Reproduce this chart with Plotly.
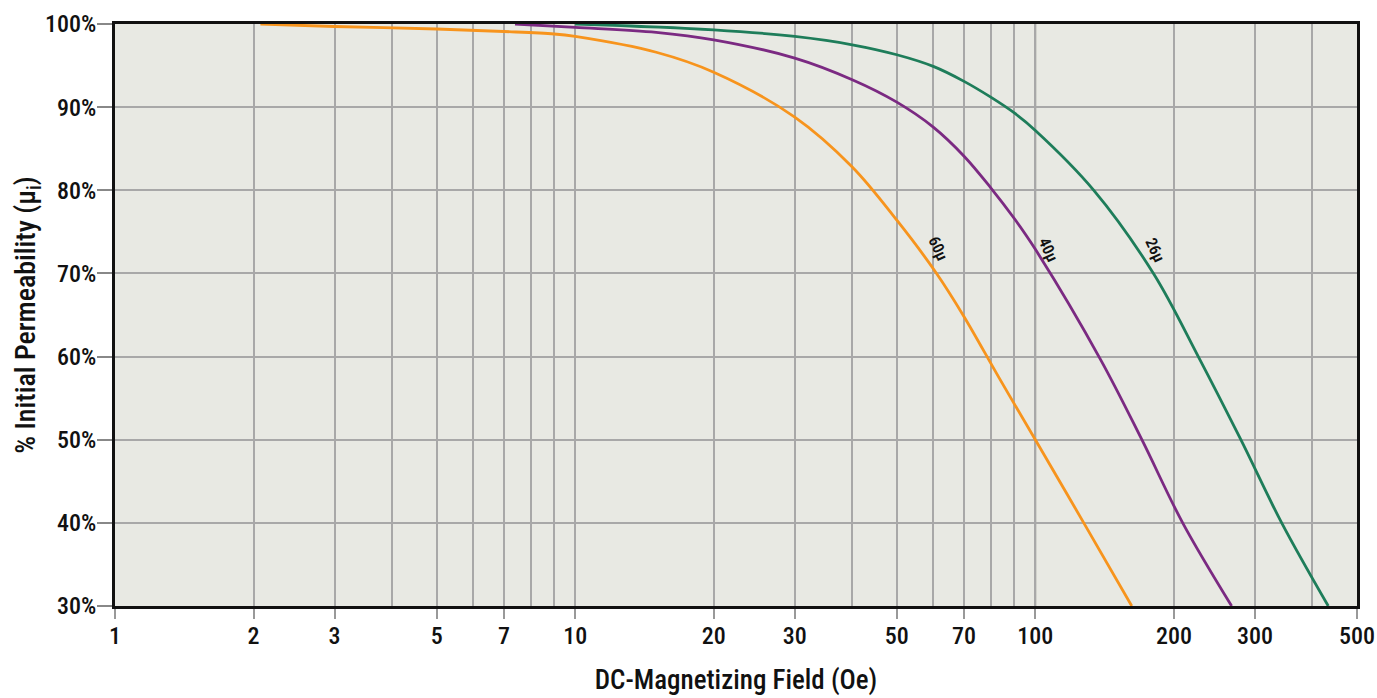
import math
import plotly.graph_objects as go

# ---- data ----
x_60u = [2.07, 3, 5, 7, 9, 10, 15, 20, 30, 40, 50, 61, 70, 83.3, 100, 127.4, 162]
y_60u = [100, 99.7, 99.4, 99.1, 98.8, 98.5, 96.6, 94.2, 88.8, 82.8, 76.4, 70, 64.8, 57.5, 50, 40, 30]

x_40u = [7.4, 10, 15, 20, 30, 40, 50, 60, 70, 80, 90, 100, 138.4, 170.4, 209, 267]
y_40u = [100, 99.6, 99.0, 98.1, 95.9, 93.3, 90.6, 87.6, 84.1, 80.3, 76.6, 72.9, 59.7, 50, 40, 30]

x_26u = [10, 20, 30, 40, 50, 60, 70, 80, 90, 100, 134, 181, 226, 279.6, 343, 433]
y_26u = [100, 99.3, 98.5, 97.5, 96.3, 94.9, 93.1, 91.2, 89.3, 87.2, 80, 69.9, 60, 50, 40, 30]

series_names = ["60µ", "40µ", "26µ"]
series_colors = ["#F7941D", "#7B2A82", "#1E7D5A"]
label_x = [61.5, 107, 182.5]
label_y = [73.0, 72.8, 72.8]

x_tickvals = [1, 2, 3, 5, 7, 10, 20, 30, 50, 70, 100, 200, 300, 500]
x_minor_grid = [4, 6, 8, 9, 40, 60, 80, 90, 400]
x_dark_grid = [10, 100]
y_tickvals = [30, 40, 50, 60, 70, 80, 90, 100]
y_ticktext = ["30%", "40%", "50%", "60%", "70%", "80%", "90%", "100%"]

FONT = "Liberation Sans Narrow, Roboto Condensed, Roboto, DejaVu Sans Condensed, sans-serif"

fig = go.Figure()
for xs, ys, name, col in zip([x_60u, x_40u, x_26u], [y_60u, y_40u, y_26u], series_names, series_colors):
    fig.add_trace(go.Scatter(x=xs, y=ys, mode="lines", name=name,
                             line=dict(color=col, width=2.8, shape="spline", smoothing=1.0),
                             hoverinfo="x+y+name"))

for lx, ly, name in zip(label_x, label_y, series_names):
    fig.add_annotation(x=math.log10(lx), y=ly, xref="x", yref="y", text=name, showarrow=False,
                       textangle=65, font=dict(family=FONT, size=16, color="#111", weight=600))

for v in x_dark_grid:
    fig.add_shape(type="line", xref="x", yref="paper", x0=v, x1=v, y0=0, y1=1,
                  line=dict(color="#111", width=1.5), layer="below")

fig.update_layout(
    width=1377, height=698,
    margin=dict(l=115, r=20, t=24, b=92, autoexpand=False),
    paper_bgcolor="white", plot_bgcolor="#E8E9E3",
    showlegend=False,
    font=dict(family=FONT, size=24, color="#111"),
    xaxis=dict(type="log", range=[0, math.log10(500)], automargin=False,
               tickmode="array", tickvals=x_tickvals, ticktext=[str(v) for v in x_tickvals],
               ticks="outside", ticklen=10, tickcolor="#999", tickwidth=1.5,
               ticklabelstandoff=-4,
               showgrid=True, gridcolor="#A8A8A8", gridwidth=1.5,
               minor=dict(tickmode="array", tickvals=x_minor_grid, showgrid=True,
                          gridcolor="#A8A8A8", gridwidth=1.5, ticks=""),
               showline=True, linecolor="#111", linewidth=3, mirror=True,
               zeroline=False,
               tickfont=dict(family=FONT, size=24, weight=500),
               title=dict(text="DC-Magnetizing Field (Oe)", font=dict(family=FONT, size=27, weight=500), standoff=22)),
    yaxis=dict(range=[30, 100], automargin=False,
               tickmode="array", tickvals=y_tickvals, ticktext=y_ticktext,
               ticks="outside", ticklen=15, tickcolor="#888", tickwidth=1.5,
               ticklabelstandoff=-4,
               showgrid=True, gridcolor="#A8A8A8", gridwidth=1.5,
               showline=True, linecolor="#111", linewidth=3, mirror=True,
               zeroline=False,
               tickfont=dict(family=FONT, size=24, weight=500),
               title=dict(text="% Initial Permeability (µ<sub>i</sub>)", font=dict(family=FONT, size=28, weight=500), standoff=2)),
)

fig.write_html("out.html")
